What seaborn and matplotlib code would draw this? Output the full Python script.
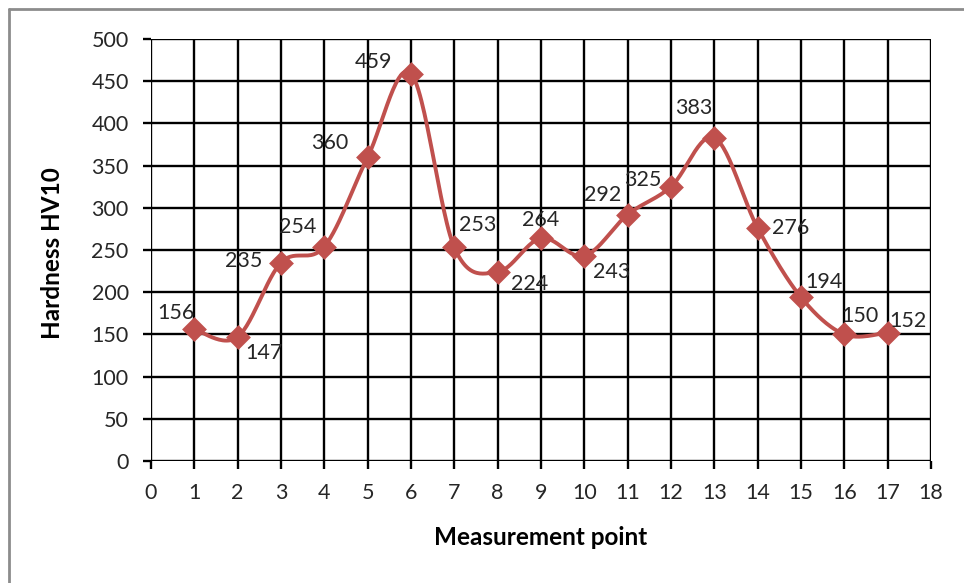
import numpy as np
import pandas as pd
import seaborn as sns
import matplotlib.pyplot as plt
from matplotlib.lines import Line2D

points = [1, 2, 3, 4, 5, 6, 7, 8, 9, 10, 11, 12, 13, 14, 15, 16, 17]
hardness = [156, 147, 235, 254, 360, 459, 253, 224, 264, 243, 292, 325, 383, 276, 194, 150, 152]

# label offsets in points (dx, dy), roughly as Excel placed them
offsets = [(-13, 11.5), (19, -11.5), (-27, 1.5), (-19, 14), (-27, 10), (-27, 8),
           (16.5, 16), (23, -9), (0, 13), (20, -11.5), (-18, 14), (-20, 5),
           (-14.5, 21.5), (24, 0), (16.5, 11), (11.5, 13), (14.5, 8.5)]

red = '#C0504D'
txt = '#262626'

sns.set_theme(style='white')
plt.rcParams['font.family'] = ['Lato', 'DejaVu Sans']


def smooth(x, y, n=30):
    # Catmull-Rom spline through the points (Excel "smoothed line")
    x = np.asarray(x, float)
    y = np.asarray(y, float)
    px = np.concatenate([[x[0]], x, [x[-1]]])
    py = np.concatenate([[y[0]], y, [y[-1]]])
    xs, ys = [], []
    t = np.linspace(0, 1, n)
    for i in range(1, len(px) - 2):
        p0x, p1x, p2x, p3x = px[i - 1:i + 3]
        p0y, p1y, p2y, p3y = py[i - 1:i + 3]
        c1x, c1y = p1x + (p2x - p0x) / 6, p1y + (p2y - p0y) / 6
        c2x, c2y = p2x - (p3x - p1x) / 6, p2y - (p3y - p1y) / 6
        bx = (1 - t) ** 3 * p1x + 3 * (1 - t) ** 2 * t * c1x + 3 * (1 - t) * t ** 2 * c2x + t ** 3 * p2x
        by = (1 - t) ** 3 * p1y + 3 * (1 - t) ** 2 * t * c1y + 3 * (1 - t) * t ** 2 * c2y + t ** 3 * p2y
        xs.extend(bx)
        ys.extend(by)
    return np.array(xs), np.array(ys)


df = pd.DataFrame({'point': points, 'hardness': hardness})
sx, sy = smooth(points, hardness)

fig = plt.figure(figsize=(9.64, 5.83), dpi=100)
ax = fig.add_axes([0.1566, 0.2093, 0.8092, 0.7238])

sns.lineplot(x=sx, y=sy, sort=False, color=red, lw=2.8, ax=ax, zorder=3)
sns.scatterplot(data=df, x='point', y='hardness', marker='D', s=160, color=red,
                edgecolor=red, linewidth=0, ax=ax, zorder=4)

for x, y, (dx, dy) in zip(points, hardness, offsets):
    ax.annotate(str(y), (x, y), xytext=(dx, dy), textcoords='offset points',
                ha='center', va='center', fontsize=15.5, color=txt, zorder=5)

ax.set_xlim(0, 18)
ax.set_ylim(0, 500)
ax.set_xticks(range(0, 19))
ax.set_yticks(range(0, 501, 50))
ax.grid(True, color='black', lw=1.7)
ax.set_axisbelow(True)
for s in ax.spines.values():
    s.set_visible(False)
ax.tick_params(axis='both', which='both', direction='out', length=6, width=1.7,
               color='black', labelsize=15.5, labelcolor=txt, left=True, bottom=True)
ax.tick_params(axis='y', pad=10)
ax.tick_params(axis='x', pad=10)

ax.set_xlabel('Measurement point', fontsize=17.5, fontweight='bold', color='black', va='center')
ax.set_ylabel('Hardness HV10', fontsize=17.5, fontweight='bold', color='black', va='center')
ax.xaxis.set_label_coords(0.5, -0.1825)
ax.yaxis.set_label_coords(-0.1256, 0.493)

# outer chart border (only left/top visible in the crop)
fig.add_artist(Line2D([9 / 964, 9 / 964], [0, 1 - 9 / 583], color='#8c8c8c', lw=2))
fig.add_artist(Line2D([9 / 964, 1], [1 - 9 / 583, 1 - 9 / 583], color='#8c8c8c', lw=2))

fig.savefig('out.png', dpi=100)
